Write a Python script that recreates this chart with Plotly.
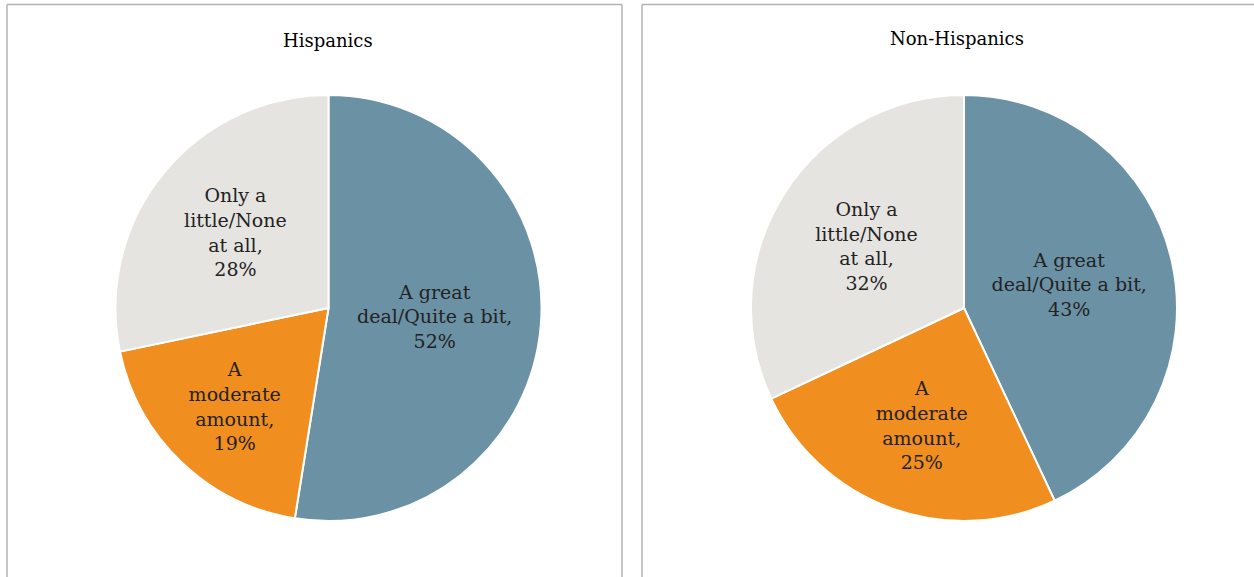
import plotly.graph_objects as go

# Survey shares by group
categories = ["A great deal/Quite a bit", "A moderate amount", "Only a little/None at all"]
hispanic_values = [52, 19, 28]
non_hispanic_values = [43, 25, 32]
panel_titles = ["Hispanics", "Non-Hispanics"]

# Wrapped label text for each slice
label_lines = [
    ["A great", "deal/Quite a bit,"],
    ["A", "moderate", "amount,"],
    ["Only a", "little/None", "at all,"],
]

colors = ["#6b91a5", "#f08e20", "#e6e4e0"]
FONT = "DejaVu Serif"
W, H = 1254, 577


def slice_text(values):
    return ["<br>".join(lines + [f"{v}%"]) for lines, v in zip(label_lines, values)]


def pie(values, cx):
    r = 213
    cy = 308
    return go.Pie(
        labels=categories,
        values=values,
        text=slice_text(values),
        textinfo="text",
        textposition="inside",
        insidetextorientation="horizontal",
        sort=False,
        direction="clockwise",
        rotation=0,
        marker=dict(colors=colors, line=dict(color="white", width=2)),
        textfont=dict(family=FONT, size=19, color="#222222"),
        hoverinfo="label+percent",
        showlegend=False,
        domain=dict(x=[(cx - r) / W, (cx + r) / W], y=[1 - (cy + r) / H, 1 - (cy - r) / H]),
    )


fig = go.Figure([pie(hispanic_values, 328.5), pie(non_hispanic_values, 964)])

# Panel frames
border = dict(color="#b3b3b3", width=1.5)
shapes = []
for x0, x1 in [(7, 622), (642, 1260)]:
    top = 1 - 4.5 / H
    shapes.append(dict(type="line", xref="paper", yref="paper", x0=x0 / W, x1=x0 / W, y0=-0.05, y1=top, line=border))
    shapes.append(dict(type="line", xref="paper", yref="paper", x0=x0 / W, x1=x1 / W, y0=top, y1=top, line=border))
    if x1 < W:
        shapes.append(dict(type="line", xref="paper", yref="paper", x0=x1 / W, x1=x1 / W, y0=-0.05, y1=top, line=border))

annotations = [
    dict(text=panel_titles[0], x=328 / W, y=1 - 41 / H, xref="paper", yref="paper",
         xanchor="center", yanchor="middle", showarrow=False,
         font=dict(family=FONT, size=18, color="#000000")),
    dict(text=panel_titles[1], x=957 / W, y=1 - 38 / H, xref="paper", yref="paper",
         xanchor="center", yanchor="middle", showarrow=False,
         font=dict(family=FONT, size=18, color="#000000")),
]

fig.update_layout(
    width=W,
    height=H,
    margin=dict(l=0, r=0, t=0, b=0),
    paper_bgcolor="white",
    plot_bgcolor="white",
    shapes=shapes,
    annotations=annotations,
)

fig.write_html("out.html")
